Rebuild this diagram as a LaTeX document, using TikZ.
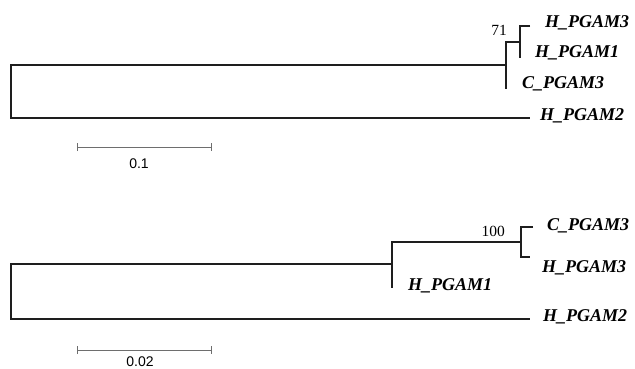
\documentclass[tikz,border=0pt]{standalone}
\usepackage{fontspec}
\setmainfont{Liberation Serif}
\setsansfont{Liberation Sans}
\usetikzlibrary{arrows.meta, positioning, calc}
\definecolor{branchblack}{RGB}{30, 30, 30}
\definecolor{bargray}{RGB}{110, 110, 110}

\begin{document}
\begin{tikzpicture}[x=1pt, y=-1pt,
  branch/.style={line width=1.3pt, branchblack},
  taxon/.style={font=\fontsize{18}{20}\selectfont\bfseries\itshape, anchor=base west, inner sep=0pt},
  support/.style={font=\fontsize{15.5}{17}\selectfont, anchor=base east, inner sep=0pt},
  scalebar/.style={line width=1pt, bargray, {Bar[width=8pt]}-{Bar[width=8pt]}},
  scalelabel/.style={font=\sffamily\fontsize{14}{16}\selectfont, anchor=base, inner sep=0pt}]
  \useasboundingbox (0,0) rectangle (635,368);

  % Upper tree
  \coordinate (rootA) at (11,91);
  \coordinate (nA1) at (506,65);
  \coordinate (nA2) at (520,42);
  \coordinate (A-H3) at (530,26);
  \coordinate (A-H1) at (520,58);
  \coordinate (A-C3) at (506,89);
  \coordinate (A-H2) at (530,118);
  \draw[branch] (nA1) -| (rootA) |- (A-H2);
  \draw[branch] (nA2) -| (nA1) |- (A-C3);
  \draw[branch] (A-H3) -| (nA2) |- (A-H1);

  \node[taxon] (tA-H3) at (545,27) {H\_PGAM3};
  \node[taxon] (tA-H1) at (535,57) {H\_PGAM1};
  \node[taxon] (tA-C3) at (522,88) {C\_PGAM3};
  \node[taxon] (tA-H2) at (540,120) {H\_PGAM2};
  \node[support] (sA) at (507,35) {71};

  % Scale 0.1
  \coordinate (barA-l) at (77,147);
  \coordinate (barA-r) at (212,147);
  \draw[scalebar] (barA-l) -- (barA-r);
  \node[scalelabel] (lA) at (139,168) {0.1};

  % Lower tree
  \coordinate (rootB) at (11,291);
  \coordinate (nB1) at (392,264);
  \coordinate (nB2) at (521,242);
  \coordinate (B-C3) at (533,227);
  \coordinate (B-H3) at (530,257);
  \coordinate (B-H1) at (392,288);
  \coordinate (B-H2) at (530,319);
  \draw[branch] (nB1) -| (rootB) |- (B-H2);
  \draw[branch] (nB2) -| (nB1) |- (B-H1);
  \draw[branch] (B-C3) -| (nB2) |- (B-H3);

  \node[taxon] (tB-C3) at (547,230) {C\_PGAM3};
  \node[taxon] (tB-H3) at (542,272) {H\_PGAM3};
  \node[taxon] (tB-H1) at (408,290) {H\_PGAM1};
  \node[taxon] (tB-H2) at (543,321) {H\_PGAM2};
  \node[support] (sB) at (505,236) {100};

  % Scale 0.02
  \coordinate (barB-l) at (77,350);
  \coordinate (barB-r) at (212,350);
  \draw[scalebar] (barB-l) -- (barB-r);
  \node[scalelabel] (lB) at (140,366) {0.02};
\end{tikzpicture}
\end{document}
